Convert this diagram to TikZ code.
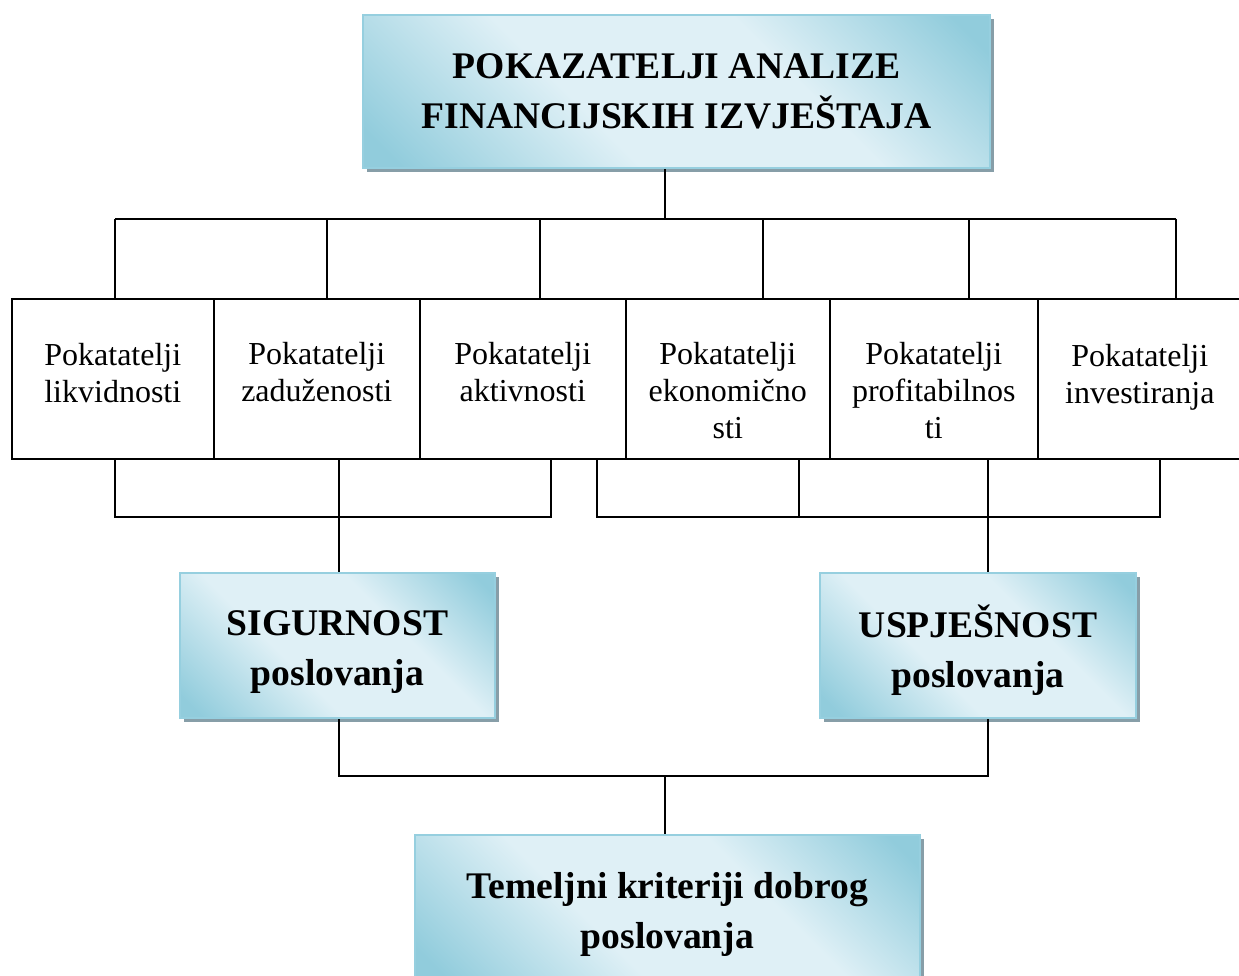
\documentclass[tikz,border=0pt]{standalone}
\usepackage{fontspec}
\setmainfont{Liberation Serif}
\usetikzlibrary{shadows}
\definecolor{aquadark}{RGB}{145,204,220}
\definecolor{aqualight}{RGB}{223,240,246}
\definecolor{aquaborder}{RGB}{150,207,223}
\definecolor{shgray}{RGB}{135,158,168}
\pgfdeclareverticalshading{aquaband}{100bp}{color(0bp)=(aquadark); color(18bp)=(aquadark); color(40bp)=(aqualight); color(62bp)=(aqualight); color(82bp)=(aquadark); color(100bp)=(aquadark)}
\tikzset{
  bluebox/.style={draw=aquaborder, line width=2pt, shading=aquaband,
    shading angle=-45,
    drop shadow={shadow xshift=4pt, shadow yshift=-4pt, fill=shgray, opacity=1},
    inner sep=0pt},
  bluetext/.style={align=center, inner sep=0pt,
    font=\fontsize{37.6}{50}\selectfont\bfseries},
  rowbox/.style={draw=black, line width=1.6pt, fill=white, inner sep=0pt,
    minimum height=160pt, anchor=north west},
  rowtext/.style={anchor=north, align=center, inner sep=0pt,
    font=\fontsize{32}{37}\selectfont},
  conn/.style={draw=black, line width=1.6pt},
}
\begin{document}
\begin{tikzpicture}[x=1pt,y=-1pt]
\useasboundingbox (0,0) rectangle (1239,976);
\fill[white] (0,0) rectangle (1239,976);

% top box
\node[bluebox, minimum width=627pt, minimum height=153pt] (top) at (676.5,91.5) {};
\node[bluetext] (toptext) at (top.center) {POKAZATELJI ANALIZE\\FINANCIJSKIH IZVJEŠTAJA};

% row of six boxes
\node[rowbox, minimum width=202pt] (b1) at (11,298) {};
\node[rowbox, minimum width=206pt] (b2) at (213,298) {};
\node[rowbox, minimum width=206pt] (b3) at (419,298) {};
\node[rowbox, minimum width=204pt] (b4) at (625,298) {};
\node[rowbox, minimum width=208pt] (b5) at (829,298) {};
\node[rowbox, minimum width=206pt] (b6) at (1037,298) {};

\node[rowtext] (t1) at ([yshift=-45pt]b1.north) {Pokatatelji\\likvidnosti};
\node[rowtext] (t2) at ([yshift=-44pt]b2.north) {Pokatatelji\\zaduženosti};
\node[rowtext] (t3) at ([yshift=-44pt]b3.north) {Pokatatelji\\aktivnosti};
\node[rowtext] (t4) at ([yshift=-44pt]b4.north) {Pokatatelji\\ekonomično\\sti};
\node[rowtext] (t5) at ([yshift=-44pt]b5.north) {Pokatatelji\\profitabilnos\\ti};
\node[rowtext, xshift=-1pt] (t6) at ([yshift=-46pt]b6.north) {Pokatatelji\\investiranja};

% middle boxes
\node[bluebox, minimum width=315pt, minimum height=145pt] (sig) at (337.5,645.5) {};
\node[bluetext] (sigtext) at ([yshift=-7pt]sig.center) {SIGURNOST\\poslovanja};
\node[bluebox, minimum width=316pt, minimum height=145pt] (usp) at (978,645.5) {};
\node[bluetext] (usptext) at ([yshift=-5pt]usp.center) {USPJEŠNOST\\poslovanja};

% bottom box
\node[bluebox, minimum width=505pt, minimum height=145pt] (bot) at (667.5,907.5) {};
\node[bluetext] (bottext) at ([yshift=-7pt]bot.center) {Temeljni kriteriji dobrog\\poslovanja};

% top bus
\coordinate (topbus) at (665,219);
\coordinate (u1) at (115,219);
\coordinate (u2) at (327,219);
\coordinate (u3) at (540,219);
\coordinate (u4) at (763,219);
\coordinate (u5) at (969,219);
\coordinate (u6) at (1176,219);
\draw[conn] (top.south -| topbus) -- (topbus);
\draw[conn] (u1) -- (u6);
\foreach \i in {1,...,6} {
  \draw[conn] (u\i) -- (u\i |- b\i.north);
}

% left bottom bus
\coordinate (l1) at (115,517);
\coordinate (l2) at (339,517);
\coordinate (l3) at (551,517);
\draw[conn] (l1 |- b1.south) -- (l1) -- (l3) -- (l3 |- b3.south);
\draw[conn] (l2 |- b2.south) -- (l2 |- sig.north);

% right bottom bus
\coordinate (r1) at (597,517);
\coordinate (r2) at (799,517);
\coordinate (r3) at (988,517);
\coordinate (r4) at (1160,517);
\draw[conn] (r1 |- b3.south) -- (r1) -- (r4) -- (r4 |- b6.south);
\draw[conn] (r2 |- b4.south) -- (r2);
\draw[conn] (r3 |- b5.south) -- (r3 |- usp.north);

% lower bus
\coordinate (m1) at (339,776);
\coordinate (m2) at (988,776);
\coordinate (m3) at (665,776);
\draw[conn] (m1 |- sig.south) -- (m1) -- (m2) -- (m2 |- usp.south);
\draw[conn] (m3) -- (m3 |- bot.north);
\end{tikzpicture}
\end{document}
